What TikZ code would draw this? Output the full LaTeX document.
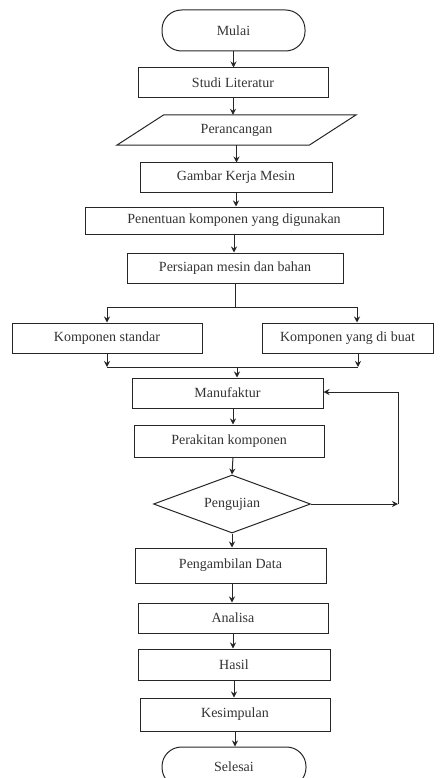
\documentclass[tikz,border=0pt]{standalone}
\usepackage{fontspec}
\setmainfont{Liberation Serif}
\usetikzlibrary{arrows.meta,shapes.geometric}
\tikzset{
  box/.style={draw=black!85, line width=1pt, rectangle, inner sep=0pt, text=black!80, font=\fontsize{14}{16}\selectfont},
  term/.style={box, rounded corners=19.5pt},
  plain/.style={rectangle, inner sep=0pt, text=black!80, font=\fontsize{14}{16}\selectfont},
  dia/.style={box, diamond, shape aspect=2.7},
  arr/.style={-{Stealth[length=6pt,width=6pt]}, line width=1pt, draw=black!85},
  ln/.style={line width=1pt, draw=black!85}
}
\begin{document}
\begin{tikzpicture}[x=1pt,y=-1pt]
\useasboundingbox (0,0) rectangle (443,778);
% nodes
\node[term, minimum width=143pt, minimum height=41pt] (mulai) at (233.5,30.5) {Mulai};
\node[box, minimum width=190pt, minimum height=30pt] (studi) at (233,83) {Studi Literatur};
\node[plain, minimum width=192pt, minimum height=30pt] (peran) at (236.5,130) {Perancangan};
\draw[ln] ([xshift=23.5pt]peran.north west) -- ([xshift=23.5pt]peran.north east)
  -- ([xshift=-23.5pt]peran.south east) -- ([xshift=-23.5pt]peran.south west) -- cycle;
\node[box, minimum width=192pt, minimum height=29pt] (gambar) at (236,177.5) {Gambar Kerja Mesin};
\node[box, minimum width=298pt, minimum height=27pt] (penen) at (234,220.5) {Penentuan komponen yang digunakan};
\node[box, minimum width=216pt, minimum height=30pt] (persi) at (235,268) {Persiapan mesin dan bahan};
\node[box, minimum width=190pt, minimum height=30pt] (kstd) at (107,338) {Komponen standar};
\node[box, minimum width=171pt, minimum height=30pt] (kbuat) at (347.5,338) {Komponen yang di buat};
\node[box, minimum width=191pt, minimum height=30pt] (manuf) at (227.5,393) {Manufaktur};
\node[box, minimum width=190pt, minimum height=32pt] (perak) at (229,441) {Perakitan komponen};
\node[dia, minimum width=157pt, minimum height=58pt] (uji) at (232,504) {Pengujian};
\node[box, minimum width=191pt, minimum height=35pt] (ambil) at (230.5,565.5) {Pengambilan Data};
\node[box, minimum width=190pt, minimum height=30pt] (anal) at (233,618) {Analisa};
\node[box, minimum width=192pt, minimum height=31pt] (hasil) at (234,664.5) {Hasil};
\node[box, minimum width=190pt, minimum height=33pt] (kesim) at (235,714.5) {Kesimpulan};
\node[term, minimum width=144pt, minimum height=40pt] (selesai) at (234,767) {Selesai};
% helper coordinates
\coordinate (bl) at (107,307);
\coordinate (br) at (357,307);
\coordinate (ml) at (107,367);
\coordinate (mr) at (358,367);
\coordinate (mm) at (237,367);
\coordinate (fb1) at (398,504);
\coordinate (fb2) at (398,392);
% connectors
\draw[arr] (mulai.south) -- (mulai.south |- studi.north);
\draw[arr] (studi.south) -- (studi.south |- peran.north);
\draw[arr] (peran.south) -- (peran.south |- gambar.north);
\draw[arr] (gambar.south) -- (gambar.south |- penen.north);
\draw[arr] (penen.south) -- (penen.south |- persi.north);
\draw[ln] (persi.south) -- (persi.south |- bl);
\draw[ln] (bl) -- (br);
\draw[arr] (bl) -- (bl |- kstd.north);
\draw[arr] (br) -- (br |- kbuat.north);
\draw[arr] (ml |- kstd.south) -- (ml);
\draw[arr] (mr |- kbuat.south) -- (mr);
\draw[ln] (ml) -- (mr);
\draw[arr] (mm) -- (mm |- manuf.north);
\draw[arr] (233,408) coordinate (ms) -- (ms |- perak.north);
\draw[arr] (233,457) coordinate (ps) -- (uji.north);
\draw[arr] (uji.south) -- (uji.south |- ambil.north);
\draw[arr] (ambil.south -| 232,0) coordinate (as) -- (as |- anal.north);
\draw[arr] (anal.south) -- (anal.south |- hasil.north);
\draw[arr] (hasil.south) -- (hasil.south |- kesim.north);
\draw[arr] (kesim.south) -- (kesim.south |- selesai.north);
\draw[arr] (uji.east) -- (fb1);
\draw[arr] (fb1) -- (fb2) -- (manuf.east |- fb2);
\end{tikzpicture}
\end{document}
